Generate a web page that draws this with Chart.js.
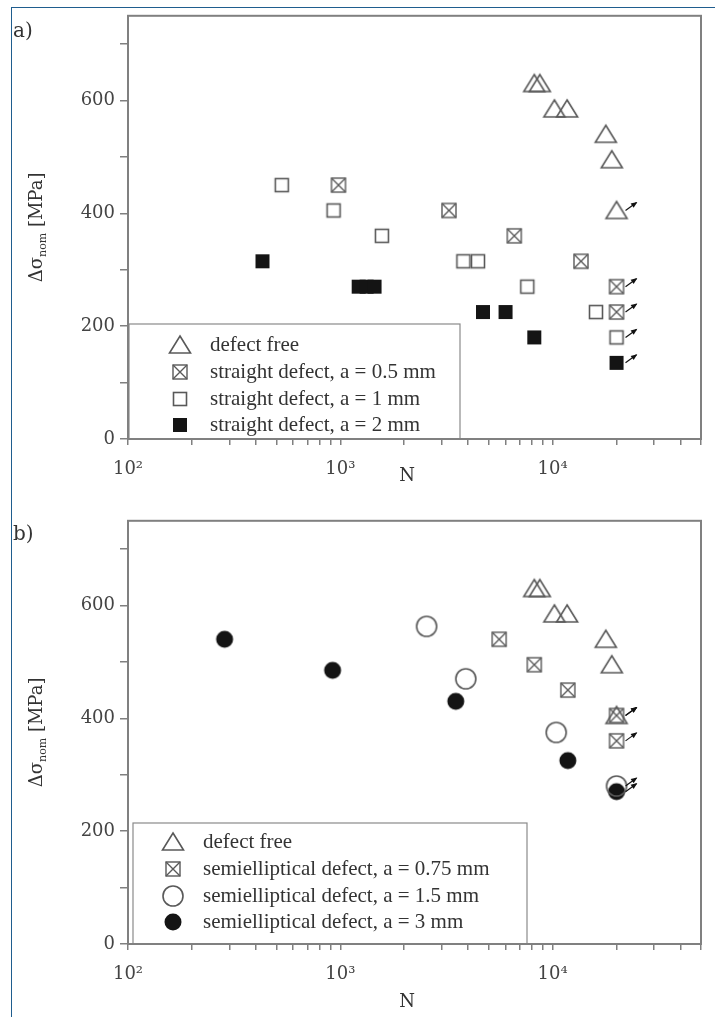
<!DOCTYPE html>
<html>
<head>
<meta charset="utf-8">
<script src="https://cdn.jsdelivr.net/npm/chart.js@4.4.1/dist/chart.umd.min.js"></script>
<style>
  body { margin: 0; background: #fff; }
  #marco { position: absolute; left: 11px; top: 7px; width: 760px; height: 1060px;
           border-left: 1.5px solid #1f5d8e; border-top: 1.5px solid #1f5d8e; }
  canvas { position: absolute; left: 0; }
</style>
</head>
<body>
<div id="marco"></div>
<canvas id="panelA" width="715" height="505" style="top:0"></canvas>
<canvas id="panelB" width="715" height="512" style="top:505px"></canvas>
<script>
// ---------- DATOS ----------
// ticks
const xTicks = [100, 200, 300, 400, 500, 600, 700, 800, 900,
                1000, 2000, 3000, 4000, 5000, 6000, 7000, 8000, 9000,
                10000, 20000, 30000, 40000, 50000];
const xLabels = { 100: '10²', 1000: '10³', 10000: '10⁴' };
const yTicks = [0, 100, 200, 300, 400, 500, 600, 700];

// defect free (a y b)
const nFree = [8200, 8700, 10200, 11700, 17800, 19000, 20000];
const sFree = [630, 630, 585, 585, 540, 495, 405];
const runFree = [0, 0, 0, 0, 0, 0, 1];

// a) straight defect
const nStr05 = [980, 3250, 6600, 13600, 20000, 20000];
const sStr05 = [450, 405, 360, 315, 270, 225];
const runStr05 = [0, 0, 0, 0, 1, 1];

const nStr1 = [530, 930, 1570, 3800, 4450, 7600, 16000, 20000];
const sStr1 = [450, 405, 360, 315, 315, 270, 225, 180];
const runStr1 = [0, 0, 0, 0, 0, 0, 0, 1];

const nStr2 = [430, 1220, 1330, 1450, 4700, 6000, 8200, 20000];
const sStr2 = [315, 270, 270, 270, 225, 225, 180, 135];
const runStr2 = [0, 0, 0, 0, 0, 0, 0, 1];

// b) semielliptical defect
const nSemi075 = [5600, 8200, 11800, 20000, 20000];
const sSemi075 = [540, 495, 450, 405, 360];
const runSemi075 = [0, 0, 0, 1, 1];

const nSemi15 = [2550, 3900, 10400, 20000];
const sSemi15 = [563, 470, 375, 280];
const runSemi15 = [0, 0, 0, 1];

const nSemi3 = [285, 920, 3500, 11800, 20000];
const sSemi3 = [540, 485, 430, 325, 270];
const runSemi3 = [0, 0, 0, 0, 1];

// ---------- MARCADORES ----------
function dibujarMarcador(g, tipo, x, y) {
  g.save();
  g.lineWidth = 1.6;
  g.strokeStyle = '#595959';
  g.fillStyle = '#141414';
  if (tipo === 'tri') {
    g.beginPath();
    g.moveTo(x, y - 9); g.lineTo(x + 10.5, y + 8); g.lineTo(x - 10.5, y + 8);
    g.closePath(); g.stroke();
  } else if (tipo === 'sq') {
    g.strokeRect(x - 6.5, y - 6.5, 13, 13);
  } else if (tipo === 'xsq') {
    g.lineWidth = 1.4;
    g.strokeRect(x - 7, y - 7, 14, 14);
    g.beginPath();
    g.moveTo(x - 7, y - 7); g.lineTo(x + 7, y + 7);
    g.moveTo(x + 7, y - 7); g.lineTo(x - 7, y + 7);
    g.stroke();
  } else if (tipo === 'fsq') {
    g.fillRect(x - 7, y - 7, 14, 14);
  } else if (tipo === 'circ') {
    g.beginPath(); g.arc(x, y, 10, 0, 2 * Math.PI); g.stroke();
  } else if (tipo === 'fcirc') {
    g.beginPath(); g.arc(x, y, 8.5, 0, 2 * Math.PI); g.fill();
  }
  g.restore();
}

function marcador(tipo) {
  const c = document.createElement('canvas');
  c.width = 26; c.height = 26;
  dibujarMarcador(c.getContext('2d'), tipo, 13, 13);
  return c;
}

function flecha(g, x0, y0, x1, y1) {
  const ang = Math.atan2(y1 - y0, x1 - x0);
  g.save();
  g.strokeStyle = '#111'; g.fillStyle = '#111'; g.lineWidth = 1.2;
  g.beginPath(); g.moveTo(x0, y0); g.lineTo(x1, y1); g.stroke();
  g.beginPath();
  g.moveTo(x1 + Math.cos(ang), y1 + Math.sin(ang));
  g.lineTo(x1 - 6 * Math.cos(ang - 0.45), y1 - 6 * Math.sin(ang - 0.45));
  g.lineTo(x1 - 6 * Math.cos(ang + 0.45), y1 - 6 * Math.sin(ang + 0.45));
  g.closePath(); g.fill();
  g.restore();
}

const serif = '"Liberation Serif", "DejaVu Serif", serif';
const ancha = '"DejaVu Serif", serif';

// ---------- PLUGIN: marco, titulos, leyenda y flechas ----------
const decoracion = {
  id: 'decoracion',
  afterDatasetsDraw(chart, args, op) {
    const g = chart.ctx;
    const a = chart.chartArea;
    g.save();

    // flechas (run-out)
    chart.data.datasets.forEach((ds, i) => {
      const meta = chart.getDatasetMeta(i);
      ds.runout.forEach((r, j) => {
        if (!r) return;
        const p = meta.data[j];
        flecha(g, p.x + 9, p.y, p.x + 20, p.y - 8);
      });
    });

    // leyenda
    const L = op.leyenda;
    g.fillStyle = '#fff';
    g.fillRect(L.x0, L.y0, L.x1 - L.x0, L.y1 - L.y0);
    g.strokeStyle = '#8a8a8a'; g.lineWidth = 1.2;
    g.strokeRect(L.x0, L.y0, L.x1 - L.x0, L.y1 - L.y0);
    g.font = '21px ' + serif;
    g.fillStyle = '#333';
    g.textBaseline = 'middle';
    chart.data.datasets.forEach((ds, i) => {
      const y = L.filas[i];
      dibujarMarcador(g, ds.tipo, L.simX, y);
      g.fillText(ds.label, L.textoX, y);
    });

    // marco del area
    g.strokeStyle = '#808080'; g.lineWidth = 2;
    g.strokeRect(a.left, a.top, a.right - a.left, a.bottom - a.top);

    // etiqueta del panel
    g.fillStyle = '#333';
    g.font = '20px ' + ancha;
    g.textBaseline = 'middle';
    g.textAlign = 'left';
    g.fillText(op.panel, 13, op.panelY);

    // titulo eje x
    g.textAlign = 'center';
    g.font = '18px ' + ancha;
    g.fillText('N', 407, op.nY);

    // titulo eje y: Δσnom [MPa]
    g.translate(35, (a.top + a.bottom) / 2);
    g.rotate(-Math.PI / 2);
    g.textAlign = 'left';
    g.textBaseline = 'alphabetic';
    g.font = '18px ' + ancha;
    const w1 = g.measureText('Δσ').width;
    const w3 = g.measureText(' [MPa]').width;
    g.font = '11px ' + ancha;
    const w2 = g.measureText('nom').width;
    let x = -(w1 + w2 + w3) / 2;
    g.font = '18px ' + ancha;
    g.fillText('Δσ', x, 7);
    g.font = '11px ' + ancha;
    g.fillText('nom', x + w1, 11);
    g.font = '18px ' + ancha;
    g.fillText(' [MPa]', x + w1 + w2, 7);
    g.restore();
  }
};

// ---------- FUNCION CREAR PANEL ----------
function serie(label, tipo, n, s, run) {
  return {
    label: label,
    tipo: tipo,
    data: n.map((v, i) => ({ x: v, y: s[i] })),
    pointStyle: marcador(tipo),
    pointRadius: 9,
    pointHoverRadius: 9,
    runout: run
  };
}

function crearPanel(canvasId, datasets, op) {
  const ctx = document.getElementById(canvasId).getContext('2d');
  new Chart(ctx, {
    type: 'scatter',
    data: { datasets: datasets },
    options: {
      responsive: false,
      animation: false,
      events: [],
      layout: { padding: { top: op.top, right: 7, left: 0, bottom: 0 } },
      plugins: {
        legend: { display: false },
        tooltip: { enabled: false },
        decoracion: op
      },
      scales: {
        x: {
          type: 'logarithmic',
          min: 100,
          max: 50000,
          afterBuildTicks: s => { s.ticks = xTicks.map(v => ({ value: v })); },
          afterFit: s => { s.height = op.altoX; },
          ticks: {
            autoSkip: false, maxRotation: 0, padding: op.padX,
            color: '#444', font: { family: ancha, size: 18 },
            callback: v => xLabels[v] || ''
          },
          grid: { drawOnChartArea: false, drawTicks: true, tickLength: 6, color: '#808080', lineWidth: 1.5 },
          border: { display: false }
        },
        y: {
          min: 0,
          max: 750,
          afterBuildTicks: s => { s.ticks = yTicks.map(v => ({ value: v })); },
          afterFit: s => { s.width = 128; },
          ticks: {
            padding: 5,
            color: '#444', font: { family: ancha, size: 18 },
            callback: v => (v % 200 === 0 ? String(v) : '')
          },
          grid: { drawOnChartArea: false, drawTicks: true, tickLength: 8, color: '#808080', lineWidth: 1.5 },
          border: { display: false }
        }
      }
    },
    plugins: [decoracion]
  });
}

// a) straight defect
crearPanel('panelA', [
  serie('defect free', 'tri', nFree, sFree, runFree),
  serie('straight defect, a = 0.5 mm', 'xsq', nStr05, sStr05, runStr05),
  serie('straight defect, a = 1 mm', 'sq', nStr1, sStr1, runStr1),
  serie('straight defect, a = 2 mm', 'fsq', nStr2, sStr2, runStr2)
], {
  top: 12, altoX: 66, padX: 14, panel: 'a)', panelY: 32, nY: 476,
  leyenda: { x0: 129, y0: 324, x1: 460, y1: 439, simX: 180, textoX: 210, filas: [345, 372, 399, 425] }
});

// b) semielliptical defect
crearPanel('panelB', [
  serie('defect free', 'tri', nFree, sFree, runFree),
  serie('semielliptical defect, a = 0.75 mm', 'xsq', nSemi075, sSemi075, runSemi075),
  serie('semielliptical defect, a = 1.5 mm', 'circ', nSemi15, sSemi15, runSemi15),
  serie('semielliptical defect, a = 3 mm', 'fcirc', nSemi3, sSemi3, runSemi3)
], {
  top: 13, altoX: 73, padX: 14, panel: 'b)', panelY: 30, nY: 497,
  leyenda: { x0: 133, y0: 318, x1: 527, y1: 439, simX: 173, textoX: 203, filas: [337, 364, 391, 417] }
});
</script>
</body>
</html>
